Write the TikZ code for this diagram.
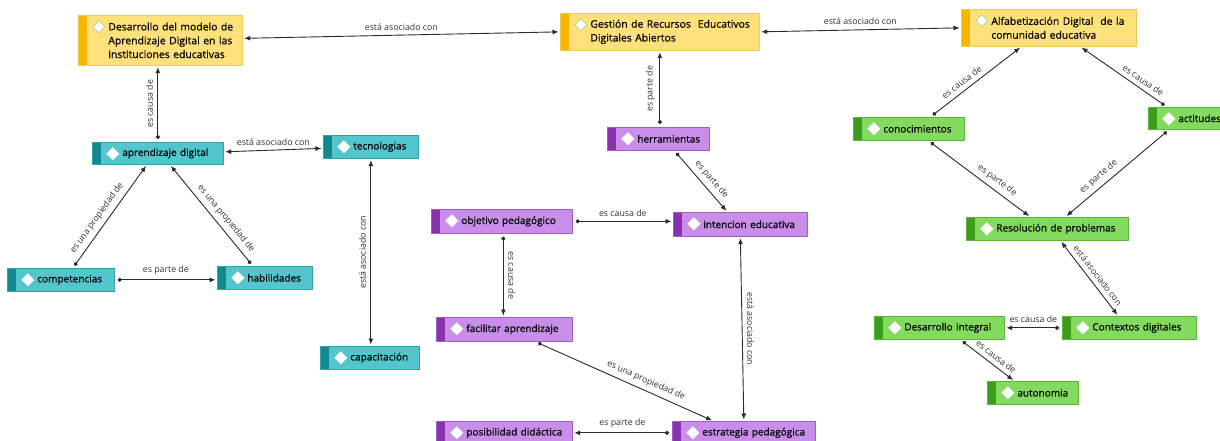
\documentclass[tikz,border=0pt]{standalone}
\usepackage{fontspec}
\setmainfont{Open Sans}
\newfontfamily\nodefont{Open Sans}[FakeBold=0.6]
\usetikzlibrary{arrows.meta}
\definecolor{yF}{HTML}{FFE17C}\definecolor{yS}{HTML}{F7B500}\definecolor{yB}{HTML}{EBC955}
\definecolor{tF}{HTML}{52C6CC}\definecolor{tS}{HTML}{12898F}\definecolor{tB}{HTML}{2FA3A8}
\definecolor{pF}{HTML}{C98EEA}\definecolor{pS}{HTML}{8A32AD}\definecolor{pB}{HTML}{A35CC6}
\definecolor{gF}{HTML}{82DB5E}\definecolor{gS}{HTML}{3C9C1C}\definecolor{gB}{HTML}{5CB53A}
\definecolor{dOut}{HTML}{A9D48C}
\definecolor{lnk}{HTML}{2B2B2B}
\definecolor{lbl}{HTML}{333333}
\tikzset{
  cbox/.style 2 args={anchor=north west, draw=#1B, fill=#1F, line width=0.7pt,
    inner xsep=0pt, inner ysep=1pt, align=left, text=black,
    font=\nodefont\fontsize{10}{13.8}\selectfont,
    execute at begin node={\leftskip=30pt\relax},
    path picture={
      \fill[#1S] (path picture bounding box.north west) rectangle ([xshift=9pt]path picture bounding box.south west);
      \coordinate (dm) at ([xshift=20.5pt,yshift=-11.5pt]path picture bounding box.north west);
      \filldraw[fill=white, draw=#2, line width=0.7pt]
        ([xshift=-6pt]dm) -- ([yshift=6pt]dm) -- ([xshift=6pt]dm) -- ([yshift=-6pt]dm) -- cycle;}},
  ybox/.style={cbox={y}{dOut}, font=\nodefont\fontsize{10.4}{13.8}\selectfont},
  tbox/.style={cbox={t}{white}},
  pbox/.style={cbox={p}{white}},
  gbox/.style={cbox={g}{white}},
  lab/.style={font=\fontsize{8.8}{10}\selectfont, text=lbl, inner sep=1pt, outer sep=4pt},
  rel/.style={draw=lnk, line width=0.9pt, {Circle[length=4pt]}-{Latex[length=6pt,width=5pt]},
    shorten <=3pt, shorten >=1.5pt},
  asc/.style={draw=lnk, line width=0.9pt, {Latex[length=6pt,width=5pt]}-{Latex[length=6pt,width=5pt]},
    shorten <=1.5pt, shorten >=1.5pt},
}
\begin{document}
\begin{tikzpicture}[x=1pt,y=-1pt]
\useasboundingbox (0,0) rectangle (1220,441);
\clip (0,0) rectangle (1220,441);
\fill[white] (0,0) rectangle (1220,441);
% yellow
\node[ybox, text width=164pt, minimum height=50pt] (d1) at (78,15)
  {Desarrollo del modelo de\\Aprendizaje Digital en las\\instituciones educativas};
\node[ybox, text width=199pt, minimum height=37pt] (g) at (560,13)
  {Gestión de Recursos\ \ Educativos\\Digitales Abiertos};
\node[ybox, text width=175pt, minimum height=37pt] (alf) at (961,9)
  {Alfabetización Digital\ \ de la\\comunidad educativa};
% teal
\node[tbox, text width=131pt, minimum height=22pt] (ad) at (92,142) {aprendizaje digital};
\node[tbox, text width=95pt, minimum height=23pt] (tec) at (323,135) {tecnologias};
\node[tbox, text width=107pt, minimum height=23pt] (comp) at (7,268) {competencias};
\node[tbox, text width=95pt, minimum height=23pt] (hab) at (217,266) {habilidades};
\node[tbox, text width=99pt, minimum height=23pt] (cap) at (320,346) {capacitación};
% purple
\node[pbox, text width=102pt, minimum height=23pt] (herr) at (607,127) {herramientas};
\node[pbox, text width=141pt, minimum height=24pt] (obj) at (431,209) {objetivo pedagógico};
\node[pbox, text width=134pt, minimum height=24pt] (int) at (673,212) {intencion educativa};
\node[pbox, text width=136pt, minimum height=24pt] (fac) at (436,317) {facilitar aprendizaje};
\node[pbox, text width=136pt, minimum height=23pt] (pos) at (436,421) {posibilidad didáctica};
\node[pbox, text width=143pt, minimum height=23pt] (est) at (672,421) {estrategia pedagógica};
% green
\node[gbox, text width=111pt, minimum height=23pt] (con) at (853,117) {conocimientos};
\node[gbox, text width=85pt, minimum height=22pt] (act) at (1148,107) {actitudes};
\node[gbox, text width=162pt, minimum height=23pt] (res) at (966,217) {Resolución de problemas};
\node[gbox, text width=130pt, minimum height=23pt] (dint) at (874,316) {Desarrollo integral};
\node[gbox, text width=134pt, minimum height=23pt] (ctx) at (1062,316) {Contextos digitales};
\node[gbox, text width=91pt, minimum height=23pt] (aut) at (987,381) {autonomia};
% connectors
\draw[asc] ([yshift=2pt]d1.east) -- node[lab,above]{está asociado con} (g.west);
\draw[asc] (g.east) -- node[lab,above]{está asociado con} (alf.west);
\draw[rel] (ad.north) -- node[lab,rotate=90,anchor=south]{es causa de} (ad.north |- d1.south);
\draw[asc] ([yshift=1.5pt]ad.east) -- node[lab,above]{está asociado con} ([yshift=-1.5pt]tec.west);
\draw[rel] ([xshift=12pt]comp.north) -- node[lab,sloped,above,pos=0.43]{es una propiedad de} ([xshift=-11pt]ad.south);
\draw[rel] ([xshift=-12pt]hab.north) -- node[lab,sloped,above,pos=0.41]{es una propiedad de} ([xshift=12pt]ad.south);
\draw[rel] (comp.east) -- node[lab,above]{es parte de} (comp.east -| hab.west);
\draw[asc] ([xshift=1pt]cap.north) -- node[lab,rotate=90,anchor=south]{está asociado con} ([xshift=1pt]cap.north |- tec.south);
\draw[rel] ([xshift=1.5pt]herr.north) -- node[lab,rotate=90,anchor=south]{es parte de} ([xshift=1.5pt]herr.north |- g.south);
\draw[rel] ([xshift=16pt]herr.south) -- node[lab,sloped,above,pos=0.57]{es parte de} ([xshift=-13pt]int.north);
\draw[rel] (obj.east) -- node[lab,above]{es causa de} (obj.east -| int.west);
\draw[rel] ([xshift=1.5pt]obj.south) -- node[lab,rotate=-90,anchor=south]{es causa de} ([xshift=1.5pt]obj.south |- fac.north);
\draw[asc] (int.south) -- node[lab,rotate=-90,anchor=south]{está asociado con} (est.north);
\draw[rel] ([xshift=31pt]fac.south) -- node[lab,sloped,above,pos=0.6]{es una propiedad de} ([xshift=-30.5pt]est.north);
\draw[rel] (est.west) -- node[lab,above]{es parte de} (est.west -| pos.east);
\draw[rel] ([xshift=21.5pt]con.north) -- node[lab,sloped,above,pos=0.4]{es causa de} ([xshift=-27.5pt]alf.south);
\draw[rel] ([xshift=19pt]act.north west) -- node[lab,sloped,above,pos=0.33]{es causa de} ([xshift=31.5pt]alf.south);
\draw[rel] ([xshift=19.5pt]con.south) -- node[lab,sloped,above,pos=0.62]{es parte de} ([xshift=-17pt]res.north);
\draw[rel] ([xshift=21pt]act.south west) -- node[lab,sloped,above,pos=0.62]{es parte de} ([xshift=18pt]res.north);
\draw[asc] ([xshift=13pt]res.south) -- node[lab,sloped,above,pos=0.53]{está asociado con} ([xshift=-11pt]ctx.north);
\draw[rel] (ctx.west) -- node[lab,above]{es causa de} (dint.east);
\draw[rel] ([xshift=21pt]dint.south) -- node[lab,sloped,above,pos=0.57]{es causa de} ([xshift=-18.5pt]aut.north);
\end{tikzpicture}
\end{document}
